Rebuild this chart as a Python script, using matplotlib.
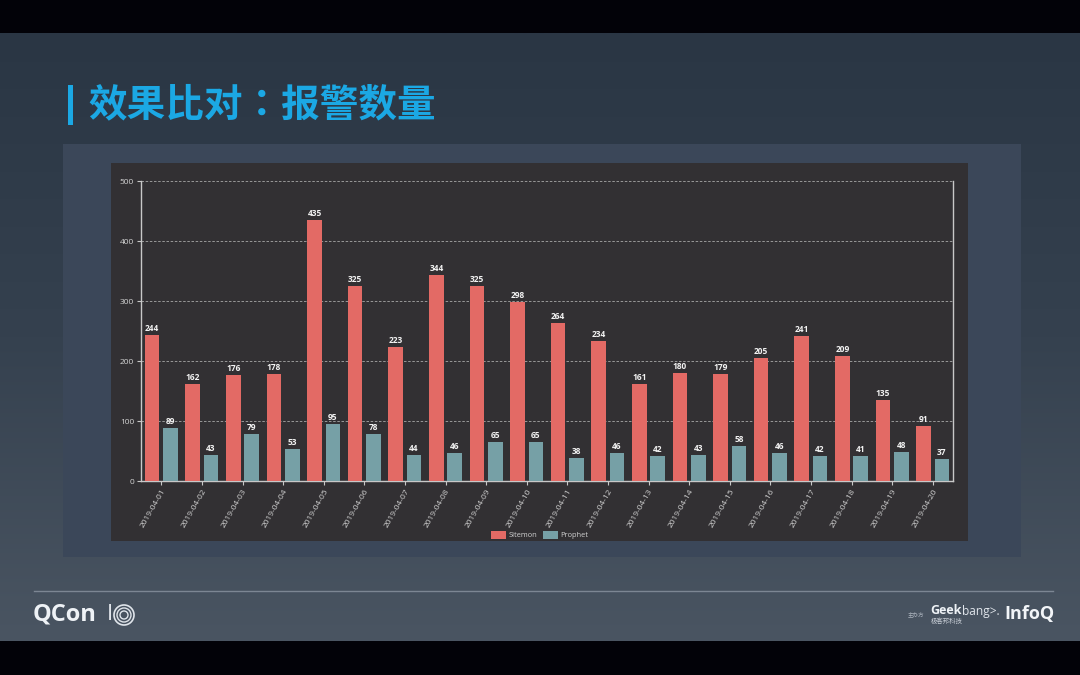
import numpy as np
import matplotlib
matplotlib.use('Agg')
import matplotlib.pyplot as plt
from matplotlib.patches import Rectangle

plt.rcParams['font.family'] = ['Open Sans', 'DejaVu Sans']

dates = ['2019-04-%02d' % d for d in range(1, 21)]
sitemon = [244, 162, 176, 178, 435, 325, 223, 344, 325, 298,
           264, 234, 161, 180, 179, 205, 241, 209, 135, 91]
prophet = [89, 43, 79, 53, 95, 78, 44, 46, 65, 65,
           38, 46, 42, 43, 58, 46, 42, 41, 48, 37]
yticks = [0, 100, 200, 300, 400, 500]

W, H = 1080, 675
cjk = ['Noto Sans CJK TC', 'DejaVu Sans']
fig = plt.figure(figsize=(W/100, H/100), dpi=100, facecolor='#020208')


def px_axes(x0, y0, x1, y1, **kw):
    # pixel box measured from the top left of the picture
    return fig.add_axes([x0/W, 1-y1/H, (x1-x0)/W, (y1-y0)/H], **kw)


## slide background
bg = px_axes(0, 33, 1080, 641)
grad = np.linspace(0, 1, 256).reshape(-1, 1)
cmap = matplotlib.colors.LinearSegmentedColormap.from_list('slide', ['#2a3644', '#35414f', '#4a5562'])
bg.imshow(grad, aspect='auto', cmap=cmap, extent=[0, W, 641, 33])
bg.set_xlim(0, W)
bg.set_ylim(641, 33)
bg.axis('off')

bg.add_patch(Rectangle((63, 144), 958, 413, color='#3b4759', lw=0))
bg.add_patch(Rectangle((68, 85), 5, 40, color='#1ba8e4', lw=0))
bg.text(88, 105, '效果比对：报警数量', color='#1ba8e4', fontsize=27.8, fontweight='bold',
        va='center', ha='left', family=cjk)
bg.plot([34, 1053], [590.5, 590.5], color='#7c8693', lw=1)

## footer logos
bg.text(33, 614, 'QCon', color='#eef2f6', fontsize=17, fontweight='bold', va='center')
bg.text(107, 614, 'I', color='#dfe4ea', fontsize=16, va='center')
for r, lw in zip([10, 7, 4], [1.2, 1.0, 1.0]):
    bg.add_patch(plt.Circle((124, 615), r, fill=False, ec='#dfe4ea', lw=lw))
bg.text(908, 614, '主办方', color='#aab2bc', fontsize=4, va='center', family=cjk)
bg.text(930, 611, 'Geek', color='#eef2f6', fontsize=9, fontweight='bold', va='center')
bg.text(962, 611, 'bang>.', color='#dfe4ea', fontsize=8.6, va='center')
bg.text(931, 621, '极客邦科技', color='#c6ccd4', fontsize=4.6, va='center', family=['Noto Sans CJK SC'])
bg.text(1004, 614, 'InfoQ', color='#f2f5f8', fontsize=13, fontweight='bold', va='center')

## chart card
card = px_axes(111, 163, 968, 541)
card.set_facecolor('#323033')
card.set_xticks([])
card.set_yticks([])
for s in card.spines.values():
    s.set_visible(False)

## chart
ax = px_axes(141, 181, 953, 481)
ax.set_facecolor('none')
x = np.arange(len(dates))
w = 0.36
red_bars = ax.bar(x-0.225, sitemon, w, color='#e36a65', label='Sitemon', zorder=3)
teal_bars = ax.bar(x+0.225, prophet, w, color='#76a0a6', label='Prophet', zorder=3)
for bars in (red_bars, teal_bars):
    ax.bar_label(bars, padding=1.5, color='#f2f2f2', fontsize=6, fontweight='bold', zorder=4)

ax.set_xlim(-0.5, len(dates)-0.5)
ax.set_ylim(0, 500)
ax.set_yticks(yticks)
ax.set_xticks(x)
ax.set_xticklabels(dates, rotation=60, ha='right', rotation_mode='anchor')
ax.tick_params(axis='both', colors='#c8c8c8', labelcolor='#d4d4d4', labelsize=6,
               length=3, width=0.8, pad=2)
ax.grid(axis='y', color='#a8a8a8', ls=(0, (3, 2)), lw=0.6, zorder=1)
ax.set_axisbelow(True)
for name in ['left', 'bottom', 'right']:
    ax.spines[name].set_color('#c8c8c8')
    ax.spines[name].set_linewidth(1)
ax.spines['top'].set_visible(False)

leg = fig.legend(handles=[red_bars, teal_bars], loc='center', bbox_to_anchor=(540/W, 1-535/H),
                 ncol=2, frameon=False, fontsize=5.4, labelcolor='#d0d0d0',
                 handlelength=2.0, handleheight=1.3, columnspacing=0.7, handletextpad=0.35)

fig.savefig('out.png', dpi=100)
